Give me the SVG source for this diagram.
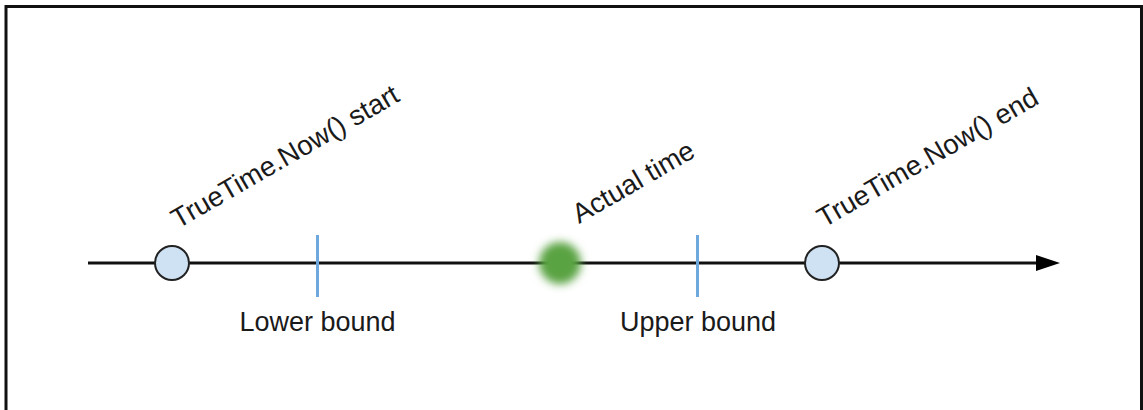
<svg xmlns="http://www.w3.org/2000/svg" width="1143" height="410" viewBox="0 0 1143 410">
<style>
.lbl{font-family:"Liberation Sans",Arial,sans-serif;font-size:27px;fill:#1a1a1a}
.rot{font-size:27.5px}
.marker{fill:#cfe2f3;stroke:#222;stroke-width:2}
.tick{stroke:#6fa8dc;stroke-width:3}
</style>
<defs>
<marker id="arrow" markerWidth="24" markerHeight="16" refX="0" refY="8" orient="auto" markerUnits="userSpaceOnUse">
<path d="M0,0 L24,8 L0,16 Z" fill="#000"/>
</marker>
<filter id="blur" x="-1" y="-1" width="3" height="3"><feGaussianBlur stdDeviation="4"/></filter>
</defs>
<rect x="6" y="6.5" width="1135.5" height="420" fill="#fff" stroke="#111" stroke-width="3"/>
<g id="connectors">
<line x1="88" y1="263" x2="1036" y2="263" stroke="#111" stroke-width="3" marker-end="url(#arrow)"/>
</g>
<g id="start">
<circle class="marker" cx="172" cy="263" r="17"/>
<text class="lbl rot" x="178" y="229" transform="rotate(-30 178 229)">TrueTime.Now() start</text>
</g>
<g id="lower">
<line class="tick" x1="317.5" y1="235" x2="317.5" y2="297"/>
<text class="lbl" x="317.5" y="331" text-anchor="middle">Lower bound</text>
</g>
<g id="actual">
<circle cx="560" cy="263" r="21" fill="#5aa343" filter="url(#blur)"/>
<text class="lbl rot" x="579" y="224" transform="rotate(-30 579 224)">Actual time</text>
</g>
<g id="upper">
<line class="tick" x1="697.5" y1="235" x2="697.5" y2="297"/>
<text class="lbl" x="698" y="331" text-anchor="middle">Upper bound</text>
</g>
<g id="end">
<circle class="marker" cx="822" cy="263" r="17"/>
<text class="lbl rot" x="824" y="228" transform="rotate(-30 824 228)">TrueTime.Now() end</text>
</g>
</svg>
